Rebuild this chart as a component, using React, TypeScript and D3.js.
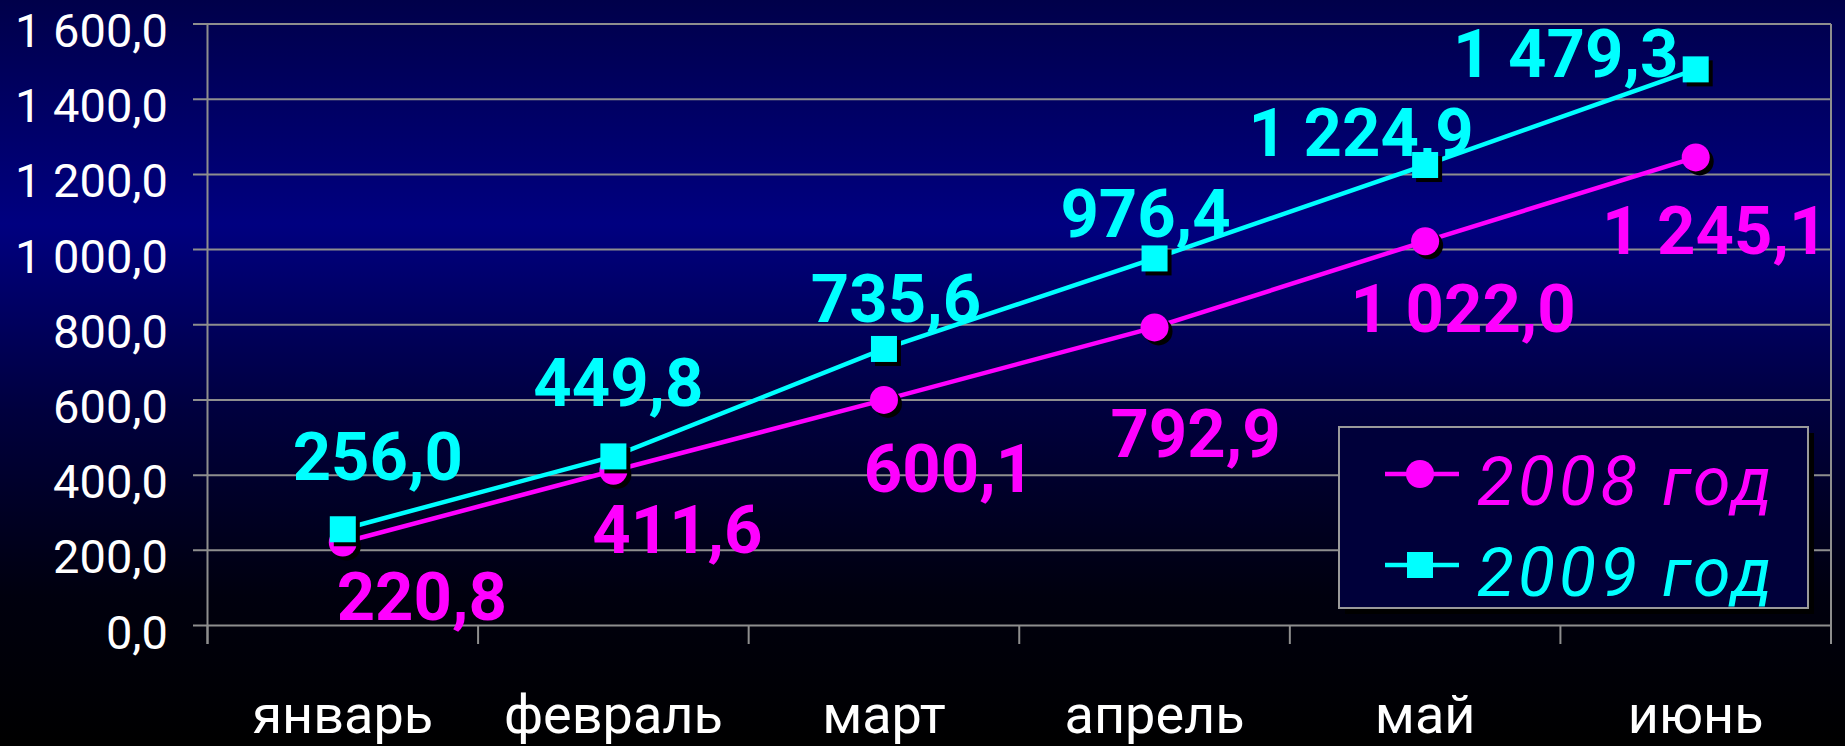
import React from "react";
import * as d3 from "d3";

const months = ["январь", "февраль", "март", "апрель", "май", "июнь"];
const values2008 = [220.8, 411.6, 600.1, 792.9, 1022.0, 1245.1];
const values2009 = [256.0, 449.8, 735.6, 976.4, 1224.9, 1479.3];
const yTicks = [0, 200, 400, 600, 800, 1000, 1200, 1400, 1600];
const seriesNames = ["2008 год", "2009 год"];

// label placement offsets (px) relative to each point: [dx, dy of baseline]
const labelOffsets2008: [number, number][] = [
  [79, 78], [64, 82], [65, 92], [41, 130], [38, 91], [19, 97],
];
const labelOffsets2009: [number, number][] = [
  [35, -49], [5, -50], [12, -27], [-9, -21], [-64, -9], [-130, 8],
];

const W = 1845;
const H = 746;
const left = 207.5;
const right = 1831;
const top = 24;
const bottom = 625.5;

const fmt = (v: number) => {
  const s = v.toFixed(1);
  const [ip, dp] = s.split(".");
  const withSpace = ip.replace(/\B(?=(\d{3})+(?!\d))/g, " ");
  return withSpace + "," + dp;
};

const MAGENTA = "#ff00ff";
const CYAN = "#00ffff";
const GRID = "#8e8e8e";
const FONT = "Roboto, 'Liberation Sans', Arial, sans-serif";

export default function App() {
  const x = d3.scaleBand<string>().domain(months).range([left, right]);
  const y = d3.scaleLinear().domain([0, 1600]).range([bottom, top]);
  const cx = (m: string) => (x(m) as number) + x.bandwidth() / 2;

  const line = d3
    .line<number>()
    .x((_, i) => cx(months[i]))
    .y((d) => y(d));

  const boundaries = months.map((m) => x(m) as number).concat([right]);

  return (
    <svg
      width={W}
      height={H}
      style={{ position: "fixed", left: 0, top: 0, display: "block" }}
      fontFamily={FONT}
    >
      <defs>
        <linearGradient id="bg" x1="0" y1="0" x2="0" y2="1">
          <stop offset="0" stopColor="#00004a" />
          <stop offset="0.3" stopColor="#000080" />
          <stop offset="0.55" stopColor="#00003e" />
          <stop offset="0.8" stopColor="#00000e" />
          <stop offset="1" stopColor="#000000" />
        </linearGradient>
      </defs>
      <rect x={0} y={0} width={W} height={H} fill="url(#bg)" />

      {yTicks.map((t) => (
        <line
          key={"g" + t}
          x1={193}
          x2={right}
          y1={y(t)}
          y2={y(t)}
          stroke={GRID}
          strokeWidth={2}
        />
      ))}
      <line x1={left} x2={left} y1={top} y2={644} stroke={GRID} strokeWidth={2} />
      <line x1={right} x2={right} y1={top} y2={644} stroke={GRID} strokeWidth={2} />
      {boundaries.map((b, i) => (
        <line key={"xt" + i} x1={b} x2={b} y1={bottom} y2={644} stroke={GRID} strokeWidth={2} />
      ))}

      {yTicks.map((t) => (
        <text
          key={"yl" + t}
          x={168}
          y={y(t) + 23}
          fill="#ffffff"
          fontSize={47}
          textAnchor="end"
        >
          {fmt(t)}
        </text>
      ))}

      {months.map((m) => (
        <text key={"xl" + m} x={cx(m)} y={733} fill="#ffffff" fontSize={54} textAnchor="middle">
          {m}
        </text>
      ))}

      <path d={line(values2008) || ""} fill="none" stroke={MAGENTA} strokeWidth={4.5} />
      {values2008.map((v, i) => (
        <g key={"c" + i}>
          <circle cx={cx(months[i]) + 4} cy={y(v) + 4} r={14} fill="#000000" />
          <circle cx={cx(months[i])} cy={y(v)} r={14} fill={MAGENTA} />
        </g>
      ))}

      <path d={line(values2009) || ""} fill="none" stroke={CYAN} strokeWidth={4.5} />
      {values2009.map((v, i) => (
        <g key={"s" + i}>
          <rect x={cx(months[i]) - 13 + 4} y={y(v) - 13 + 4} width={26} height={26} fill="#000000" />
          <rect x={cx(months[i]) - 13} y={y(v) - 13} width={26} height={26} fill={CYAN} />
        </g>
      ))}

      {values2008.map((v, i) => (
        <text
          key={"l8" + i}
          x={cx(months[i]) + labelOffsets2008[i][0]}
          y={y(v) + labelOffsets2008[i][1]}
          fill={MAGENTA}
          fontSize={67}
          fontWeight="bold"
          textAnchor="middle"
        >
          {fmt(v)}
        </text>
      ))}
      {values2009.map((v, i) => (
        <text
          key={"l9" + i}
          x={cx(months[i]) + labelOffsets2009[i][0]}
          y={y(v) + labelOffsets2009[i][1]}
          fill={CYAN}
          fontSize={67}
          fontWeight="bold"
          textAnchor="middle"
        >
          {fmt(v)}
        </text>
      ))}

      <g>
        <rect x={1345} y={433} width={469} height={181} fill="#000000" />
        <rect x={1339} y={427} width={469} height={181} fill="#00003a" stroke="#9a9a9a" strokeWidth={2} />
        {seriesNames.map((name, i) => {
          const ly = 474 + i * 91;
          const col = i === 0 ? MAGENTA : CYAN;
          return (
            <g key={"lg" + i}>
              <line x1={1385} x2={1459} y1={ly} y2={ly} stroke={col} strokeWidth={4.5} />
              {i === 0 ? (
                <circle cx={1420} cy={ly} r={14} fill={col} />
              ) : (
                <rect x={1407} y={ly - 13} width={26} height={26} fill={col} />
              )}
              <text
                x={1477}
                y={ly + 31}
                fill={col}
                fontSize={68}
                fontStyle="italic"
                letterSpacing={4}
              >
                {name}
              </text>
            </g>
          );
        })}
      </g>
    </svg>
  );
}
